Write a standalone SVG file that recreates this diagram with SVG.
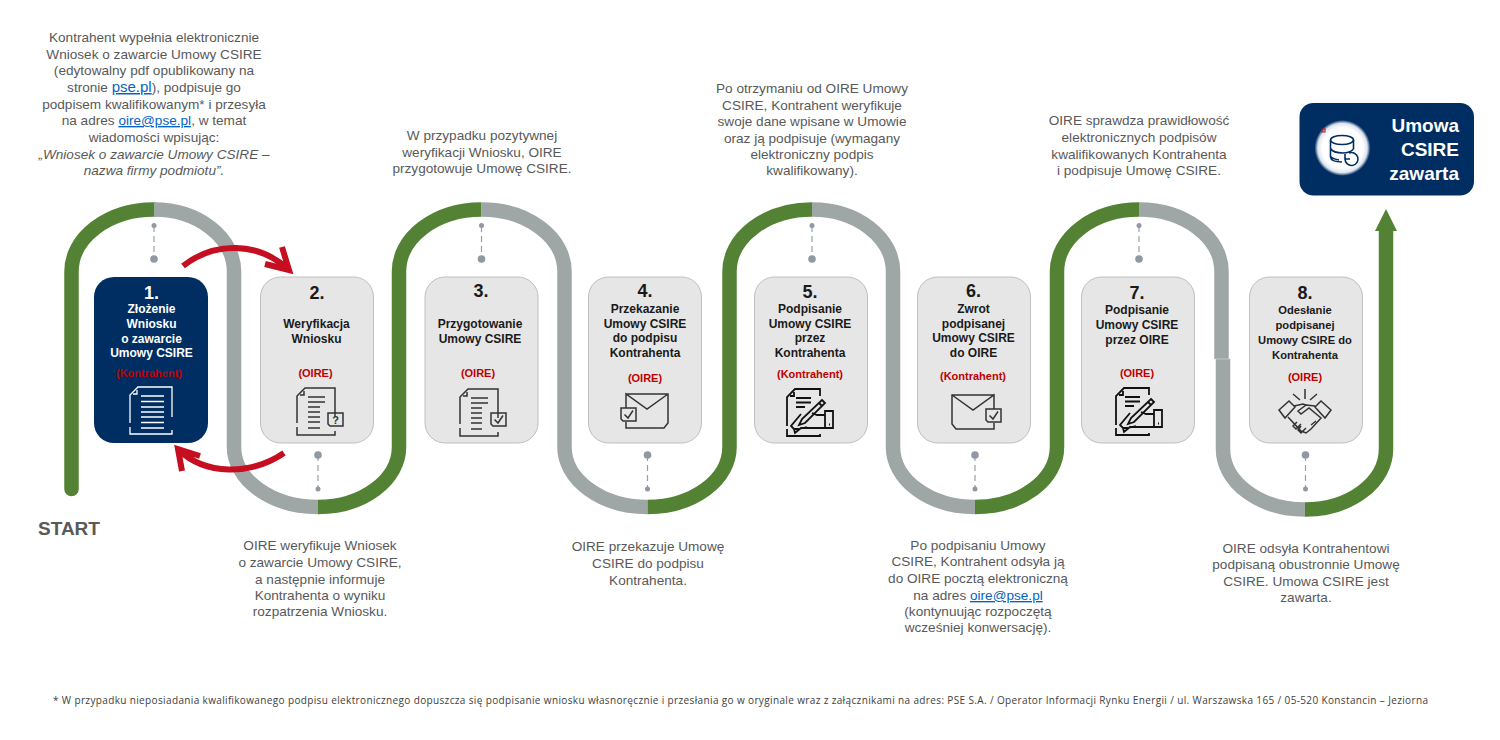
<svg xmlns="http://www.w3.org/2000/svg" width="1500" height="740" viewBox="0 0 1500 740">
<style>
text{font-family:"Liberation Sans",Arial,sans-serif;text-anchor:middle}
.d{font-size:13.600px;fill:#595959}
.i{font-style:italic}
.l{fill:#0563c1;text-decoration:underline}
.n{font-size:18px;font-weight:700;fill:#1a1a1a}
.t{font-size:12px;font-weight:700;fill:#1a1a1a}
.w{fill:#fff}
.r{font-size:11px;font-weight:700;fill:#c00000}
.box{fill:#e6e6e6;stroke:#bfbfbf;stroke-width:1}
.navy{fill:#002d62}
.g{fill:none;stroke:#548235;stroke-width:14.5}
.s{fill:none;stroke:#9fa6a6;stroke-width:14.5}
.dash{stroke:#9a9fa6;stroke-width:1.2;stroke-dasharray:6 4;fill:none}
.dot{fill:#9098a3}
.ra{fill:none;stroke:#c50e20;stroke-width:6}
.ic{fill:none;stroke:#333;stroke-width:1.5}
.ic3{fill:none;stroke:#111;stroke-width:1.8}
.ic2{fill:none;stroke:#fff;stroke-width:1.3}
</style>
<defs>
<radialGradient id="glow"><stop offset="0.72" stop-color="#fff"/><stop offset="0.88" stop-color="#dfe6ef"/><stop offset="1" stop-color="#002d62"/></radialGradient>
<g id="doc"><path d="M0 35V8L8 0H38V29M0 39V47H38V43M3 7H7V3"/></g>
<g id="chk"><path d="M0 0H15V13H2L0 11ZM3.500 6.500L7 10L12 2.500"/></g>
<g id="env"><path d="M0 0H42V29L38 34H0V28M0 14V0L21 15L42 0"/></g>
<g id="sign"><path d="M0 37V8L8 0H33V7M0 40V47H33V45M3 7H7V3M9 9H24M9 13.500H24M9 18H18"/><path d="M35 11L38 14L18 34L12 36L15 30ZM32 14L35 17"/><path d="M14 25L4 37L7 40H12M38 26H30L25 24M38 39H14L8 44L7 40M12 40L20 38M38 22H46V39H38ZM42 35.500h1"/></g>
</defs>

<g id="connectors">
<path class="g" d="M71.500 489V271.500A82.500 62 0 0 1 154 209.500" stroke-linecap="round"/>
<path class="s" d="M154 209.500A80 62 0 0 1 234 271.500V447A84 60 0 0 0 318 507"/>
<path class="g" d="M318 507A81 60 0 0 0 399 447V271.500A82.500 62 0 0 1 481.500 209.500"/>
<path class="s" d="M481.500 209.500A83 62 0 0 1 564.500 271.500V447A83 60 0 0 0 647.500 507"/>
<path class="g" d="M647.500 507A82 60 0 0 0 729.500 447V271.500A82.500 62 0 0 1 812 209.500"/>
<path class="s" d="M812 209.500A81 62 0 0 1 893 271.500V447A82 60 0 0 0 975 507"/>
<path class="g" d="M975 507A82 60 0 0 0 1057 447V271.500A82 62 0 0 1 1139 209.500"/>
<path class="s" d="M1139 209.500A82.500 62 0 0 1 1221.500 271.500V359"/>
<path class="s" d="M1223 359V449A82 60.500 0 0 0 1305 509.500"/>
<path d="M1215 359H1230" stroke="#c9cdcd" stroke-width="0.800" fill="none"/>
<path class="g" d="M1305 509.500A81 60.500 0 0 0 1386 449V230"/>
<polygon points="1375,231 1397,231 1386,209" fill="#548235"/>
<g>
<path class="dash" d="M154 226V259M481.500 226V259M812 226V259M1139 226V259M318 455V489M647.500 455V489M975 455V489M1305.500 455V489"/>
<g class="dot">
<circle cx="154" cy="225.500" r="2.500"/><circle cx="154" cy="259" r="3.800"/>
<circle cx="481.500" cy="225.500" r="2.500"/><circle cx="481.500" cy="259" r="3.800"/>
<circle cx="812" cy="225.500" r="2.500"/><circle cx="812" cy="259" r="3.800"/>
<circle cx="1139" cy="225.500" r="2.500"/><circle cx="1139" cy="259" r="3.800"/>
<circle cx="318" cy="455" r="3.800"/><circle cx="318" cy="489" r="2.500"/>
<circle cx="647.500" cy="455" r="3.800"/><circle cx="647.500" cy="489" r="2.500"/>
<circle cx="975" cy="455" r="3.800"/><circle cx="975" cy="489" r="2.500"/>
<circle cx="1305.500" cy="455" r="3.800"/><circle cx="1305.500" cy="489" r="2.500"/>
</g>
</g>
<path class="ra" d="M183 266C215 241 258 242 288 269M282 247L289 270L265 264"/>
<path class="ra" d="M284 453C250 476 205 475 179 450M200 456L178 449L182 471"/>
</g>

<g id="start"><text x="69" y="535" style="font-size:19px;font-weight:700;fill:#595959">START</text></g>

<g id="step1">
<rect class="navy" x="94" y="277" width="114" height="166" rx="20"/>
<text class="n w" x="151.500" y="299">1.</text>
<text class="t w" x="151.500" y="313">Złożenie</text>
<text class="t w" x="151.500" y="328">Wniosku</text>
<text class="t w" x="151.500" y="343">o zawarcie</text>
<text class="t w" x="151.500" y="357">Umowy CSIRE</text>
<text class="r" x="149" y="377">(Kontrahent)</text>
<path class="ic2" d="M130 423V395L138 387H172V417M130 427V434H172V430M133 394H137V390M141 396H164M141 401.500H164M141 407H164M141 412H164M141 417H164M141 422.500H164M141 428H164"/>
<g class="d">
<text x="154" y="42">Kontrahent wypełnia elektronicznie</text>
<text x="154" y="58.500">Wniosek o zawarcie Umowy CSIRE</text>
<text x="154" y="75">(edytowalny pdf opublikowany na</text>
<text x="154" y="92">stronie <tspan class="l" style="font-size:15px">pse.pl</tspan>), podpisuje go</text>
<text x="154" y="108.500">podpisem kwalifikowanym* i przesyła</text>
<text x="154" y="125">na adres <tspan class="l">oire@pse.pl</tspan>, w temat</text>
<text x="154" y="142">wiadomości wpisując:</text>
<text class="i" x="154" y="158.500">„Wniosek o zawarcie Umowy CSIRE –</text>
<text class="i" x="154" y="175">nazwa firmy podmiotu”.</text>
</g>
</g>

<g id="step2">
<rect class="box" x="260.500" y="277" width="113" height="166" rx="20"/>
<text class="n" x="317" y="299">2.</text>
<text class="t" x="316.500" y="328">Weryfikacja</text>
<text class="t" x="316.500" y="343">Wniosku</text>
<text class="r" x="315.500" y="377">(OIRE)</text>
<g class="ic"><use href="#doc" x="297" y="388"/><path d="M308 397H325M308 402H325M308 407H320M308 412H320M308 417H320M308 422H320M308 428H320M328 413H343V426H330L328 424Z"/></g>
<text x="335.500" y="424" style="font-size:11px;font-weight:700;fill:#333">?</text>
<g class="d">
<text x="320" y="550">OIRE weryfikuje Wniosek</text>
<text x="320" y="567">o zawarcie Umowy CSIRE,</text>
<text x="320" y="584">a następnie informuje</text>
<text x="320" y="600">Kontrahenta o wyniku</text>
<text x="320" y="616">rozpatrzenia Wniosku.</text>
</g>
</g>

<g id="step3">
<rect class="box" x="425" y="277" width="113" height="166" rx="20"/>
<text class="n" x="481" y="297">3.</text>
<text class="t" x="480" y="328">Przygotowanie</text>
<text class="t" x="480" y="342.500">Umowy CSIRE</text>
<text class="r" x="478" y="377">(OIRE)</text>
<g class="ic"><use href="#doc" x="460" y="389"/><path d="M471 398H488M471 403H488M471 408H482M471 413H482M471 418H482M471 423H482M471 429H482"/><use href="#chk" x="491" y="413"/></g>
<g class="d">
<text x="482" y="140">W przypadku pozytywnej</text>
<text x="482" y="156.500">weryfikacji Wniosku, OIRE</text>
<text x="482" y="173">przygotowuje Umowę CSIRE.</text>
</g>
</g>

<g id="step4">
<rect class="box" x="588.500" y="277" width="113" height="166" rx="20"/>
<text class="n" x="645" y="297">4.</text>
<text class="t" x="645" y="313">Przekazanie</text>
<text class="t" x="645" y="328">Umowy CSIRE</text>
<text class="t" x="645" y="342">do podpisu</text>
<text class="t" x="645" y="357">Kontrahenta</text>
<text class="r" x="645" y="382">(OIRE)</text>
<g class="ic"><use href="#env" x="626" y="394"/><use href="#chk" x="621" y="408"/></g>
<g class="d">
<text x="648" y="551">OIRE przekazuje Umowę</text>
<text x="648" y="568">CSIRE do podpisu</text>
<text x="648" y="585">Kontrahenta.</text>
</g>
</g>

<g id="step5">
<rect class="box" x="754.500" y="277" width="113" height="166" rx="20"/>
<text class="n" x="810" y="298">5.</text>
<text class="t" x="810" y="313">Podpisanie</text>
<text class="t" x="810" y="328">Umowy CSIRE</text>
<text class="t" x="810" y="342">przez</text>
<text class="t" x="810" y="357">Kontrahenta</text>
<text class="r" x="810" y="378">(Kontrahent)</text>
<use class="ic3" href="#sign" x="787" y="389"/>
<g class="d">
<text x="812" y="93">Po otrzymaniu od OIRE Umowy</text>
<text x="812" y="110">CSIRE, Kontrahent weryfikuje</text>
<text x="812" y="126">swoje dane wpisane w Umowie</text>
<text x="812" y="143">oraz ją podpisuje (wymagany</text>
<text x="812" y="159">elektroniczny podpis</text>
<text x="812" y="175">kwalifikowany).</text>
</g>
</g>

<g id="step6">
<rect class="box" x="917.500" y="277" width="113" height="166" rx="20"/>
<text class="n" x="973.500" y="297">6.</text>
<text class="t" x="973.500" y="313">Zwrot</text>
<text class="t" x="973.500" y="328">podpisanej</text>
<text class="t" x="973.500" y="342">Umowy CSIRE</text>
<text class="t" x="973.500" y="357">do OIRE</text>
<text class="r" x="973" y="380">(Kontrahent)</text>
<g class="ic"><use href="#env" transform="translate(994 395) scale(-1 1)"/><use href="#chk" x="986" y="409"/></g>
<g class="d">
<text x="978" y="550">Po podpisaniu Umowy</text>
<text x="978" y="566">CSIRE, Kontrahent odsyła ją</text>
<text x="978" y="583">do OIRE pocztą elektroniczną</text>
<text x="978" y="600">na adres <tspan class="l">oire@pse.pl</tspan></text>
<text x="978" y="616">(kontynuując rozpoczętą</text>
<text x="978" y="632">wcześniej konwersację).</text>
</g>
</g>

<g id="step7">
<rect class="box" x="1081.500" y="277" width="113" height="166" rx="20"/>
<text class="n" x="1137" y="299">7.</text>
<text class="t" x="1137" y="314">Podpisanie</text>
<text class="t" x="1137" y="329">Umowy CSIRE</text>
<text class="t" x="1137" y="344">przez OIRE</text>
<text class="r" x="1137" y="377">(OIRE)</text>
<use class="ic3" href="#sign" x="1116" y="388"/>
<g class="d">
<text x="1139" y="125">OIRE sprawdza prawidłowość</text>
<text x="1139" y="142">elektronicznych podpisów</text>
<text x="1139" y="159">kwalifikowanych Kontrahenta</text>
<text x="1139" y="175">i podpisuje Umowę CSIRE.</text>
</g>
</g>

<g id="step8">
<rect class="box" x="1249.500" y="277" width="113" height="166" rx="20"/>
<text class="n" x="1305" y="299">8.</text>
<text class="t" style="font-size:11.200px" x="1305" y="314">Odesłanie</text>
<text class="t" style="font-size:11.200px" x="1305" y="329">podpisanej</text>
<text class="t" style="font-size:11.200px" x="1305" y="344">Umowy CSIRE do</text>
<text class="t" style="font-size:11.200px" x="1305" y="359">Kontrahenta</text>
<text class="r" x="1305" y="381">(OIRE)</text>
<g class="ic" transform="translate(1279 389)"><path d="M26 0V10M14 5L21 11M38 5L31 11M0 21L10 12L16 18L6 29ZM52 21L42 12L36 18L46 29ZM15 17L24 15L27 16L19 22L22 25L30 19L42 29L32 40L27 44L22 42L9 28M36 17L27 16M18 33L14 37L17 40L22 35M22 37L19 41L22 44L27 39M32 36L37 32"/></g>
<g class="d">
<text x="1306" y="553">OIRE odsyła Kontrahentowi</text>
<text x="1306" y="569">podpisaną obustronnie Umowę</text>
<text x="1306" y="586">CSIRE. Umowa CSIRE jest</text>
<text x="1306" y="602">zawarta.</text>
</g>
</g>

<g id="end">
<rect class="navy" x="1299.500" y="103" width="174.500" height="92.500" rx="14"/>
<circle cx="1342.500" cy="148" r="28" fill="url(#glow)"/>
<rect x="1322" y="129" width="3" height="3" fill="none" stroke="#c50e20" stroke-width="1"/>
<g fill="none" stroke="#002d62" stroke-width="1.600">
<ellipse cx="1342" cy="140" rx="11.500" ry="4.500"/>
<path d="M1330.500 140V157Q1331 162 1342 162M1353.500 140V149M1330.500 148.500Q1333 153 1343 153Q1350 153 1353.500 149M1330.500 156.500Q1333 159 1339 160"/>
<path d="M1349 153A6.500 6.500 0 1 1 1345 159M1345 154V159H1350"/>
</g>
<g style="font-size:19px;font-weight:700;fill:#fff">
<text x="1459" y="132" style="text-anchor:end">Umowa</text>
<text x="1459" y="156" style="text-anchor:end">CSIRE</text>
<text x="1459" y="180" style="text-anchor:end">zawarta</text>
</g>
</g>

<g id="footnote">
<text x="740.500" y="704" textLength="1375" lengthAdjust="spacing" style="font-family:'Open Sans','Liberation Sans',sans-serif;font-size:10px;fill:#404040">* W przypadku nieposiadania kwalifikowanego podpisu elektronicznego dopuszcza się podpisanie wniosku własnoręcznie i przesłania go w oryginale wraz z załącznikami na adres: PSE S.A.  / Operator Informacji Rynku Energii / ul. Warszawska 165 / 05-520 Konstancin – Jeziorna</text>
</g>
</svg>
